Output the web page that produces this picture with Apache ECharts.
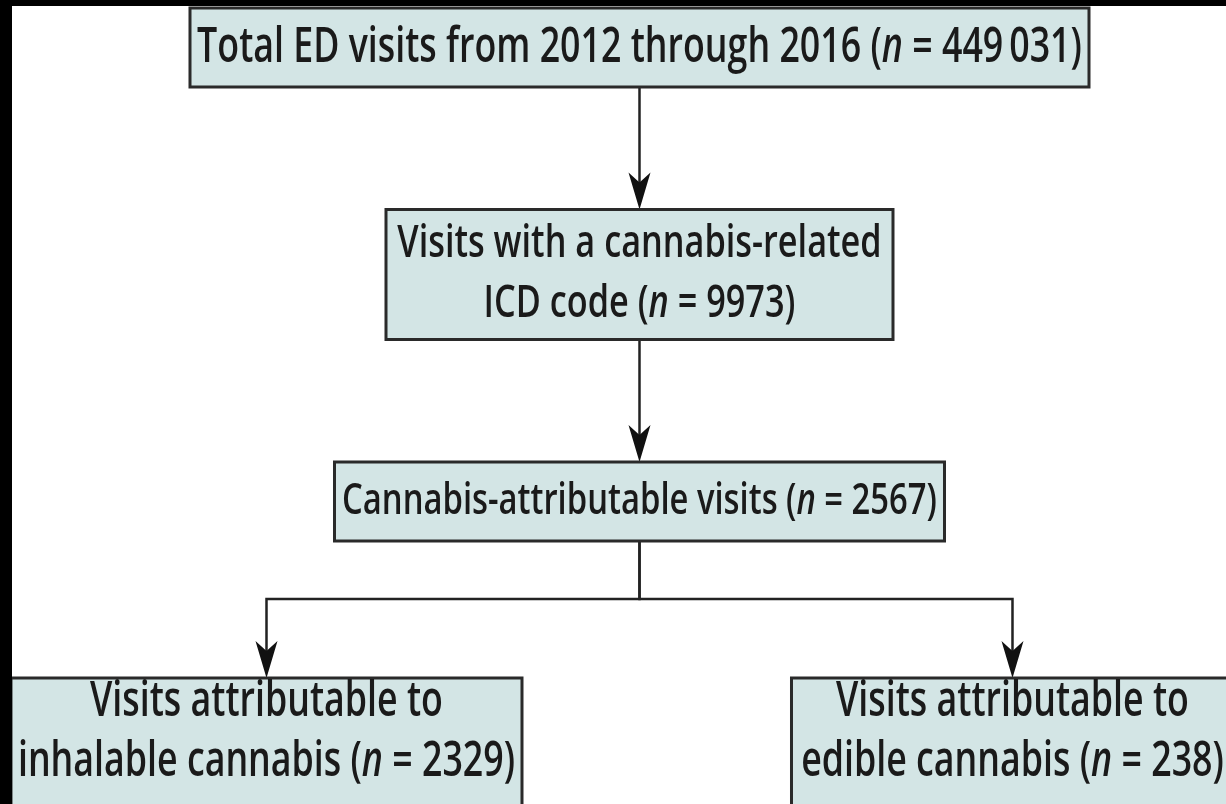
<!DOCTYPE html>
<html>
<head>
<meta charset="utf-8">
<script src="https://cdn.jsdelivr.net/npm/echarts@6/dist/echarts.min.js"></script>
<style>
html,body{margin:0;padding:0;background:#000;width:1226px;height:804px;overflow:hidden;}
#chart{position:absolute;left:12px;top:6px;width:1214px;height:798px;background:#fff;}
</style>
</head>
<body>
<div id="chart"></div>
<script>
// ---- data ----
const nodeLines = [
  ['Total ED visits from 2012 through 2016'],
  ['Visits with a cannabis-related', 'ICD code'],
  ['Cannabis-attributable visits'],
  ['Visits attributable to', 'inhalable cannabis'],
  ['Visits attributable to', 'edible cannabis']
];
const nodeCounts = [449031, 9973, 2567, 2329, 238];
const edges = [[0, 1], [1, 2], [2, 3], [2, 4]];

// ---- layout (abstract units: column / level) ----
const nodeCol = [0, 0, 0, -1, 1];
const nodeLevel = [0, 1, 2, 3.13, 3.13];
const junctionLevel = 2.43;
const boxW = [899, 507, 610, 511, 442];
const boxH = [79, 130, 79, 160, 160];
const textDy = [1, -1, 0, -25.5, -25.5];
const fontSz = [48, 46, 44, 48, 48];
const TEXT_SX = 0.745;
const FONT = "'Open Sans', 'Noto Sans', sans-serif";
const FILL = '#d3e5e5';
const INK = '#1a1a1a';
const LINE = '#222222';

function fmtCount(n) {
  const s = String(n);
  if (n < 10000) return s;
  return s.replace(/\B(?=(\d{3})+(?!\d))/g, '\u2009');
}
function nodeText(i) {
  const lines = nodeLines[i].slice();
  const last = lines.pop();
  lines.push(last + ' ({i|n} = ' + fmtCount(nodeCounts[i]) + ')');
  return lines.join('\n');
}

const chart = echarts.init(document.getElementById('chart'), null, {renderer: 'canvas'});

const option = {
  animation: false,
  backgroundColor: '#ffffff',
  grid: {left: 0, right: 0, top: 0, bottom: 0},
  xAxis: {type: 'value', min: -1.6823, max: 1.5724, show: false},
  yAxis: {type: 'value', min: -0.1828, max: 3.3326, inverse: true, show: false},
  series: [
    {
      type: 'custom',
      coordinateSystem: 'cartesian2d',
      silent: true,
      z: 2,
      encode: {x: 0, y: 1},
      data: edges.map(e => [nodeCol[e[1]], nodeLevel[e[1]], e[0], e[1]]),
      renderItem: function (params, api) {
        const p = api.value(2), c = api.value(3);
        const pc = api.coord([nodeCol[p], nodeLevel[p]]);
        const cc = api.coord([nodeCol[c], nodeLevel[c]]);
        const y0 = pc[1] + boxH[p] / 2;
        const y1 = cc[1] - boxH[c] / 2;
        let pts;
        if (nodeCol[p] === nodeCol[c]) {
          pts = [[pc[0], y0], [cc[0], y1 - 12]];
        } else {
          const jy = api.coord([0, junctionLevel])[1];
          pts = [[pc[0], y0], [pc[0], jy], [cc[0], jy], [cc[0], y1 - 12]];
        }
        const x = cc[0];
        return {
          type: 'group',
          children: [
            {type: 'polyline', shape: {points: pts}, style: {stroke: LINE, lineWidth: 2.5, fill: null}},
            {type: 'polygon', shape: {points: [[x, y1], [x - 11, y1 - 37], [x, y1 - 27], [x + 11, y1 - 37]]},
             style: {fill: '#111', stroke: null}}
          ]
        };
      }
    },
    {
      type: 'custom',
      coordinateSystem: 'cartesian2d',
      silent: true,
      z: 3,
      encode: {x: 0, y: 1},
      data: nodeLines.map((_, i) => [nodeCol[i], nodeLevel[i], i]),
      renderItem: function (params, api) {
        const i = api.value(2);
        const c = api.coord([api.value(0), api.value(1)]);
        const w = boxW[i], h = boxH[i], fs = fontSz[i];
        return {
          type: 'group',
          children: [
            {type: 'rect', shape: {x: c[0] - w / 2, y: c[1] - h / 2, width: w, height: h},
             style: {fill: FILL, stroke: '#2a2a2a', lineWidth: 3}},
            {type: 'text', x: c[0], y: c[1] + textDy[i], scaleX: TEXT_SX, scaleY: 1,
             style: {
               text: nodeText(i),
               align: 'center', verticalAlign: 'middle',
               fontFamily: FONT, fontSize: fs, fontWeight: 600, lineHeight: 60,
               fill: INK,
               rich: {
                 i: {fontFamily: FONT, fontSize: fs, fontWeight: 600, fontStyle: 'italic', lineHeight: 60, fill: INK}
               }
             }}
          ]
        };
      }
    }
  ]
};
chart.setOption(option);
</script>
</body>
</html>
